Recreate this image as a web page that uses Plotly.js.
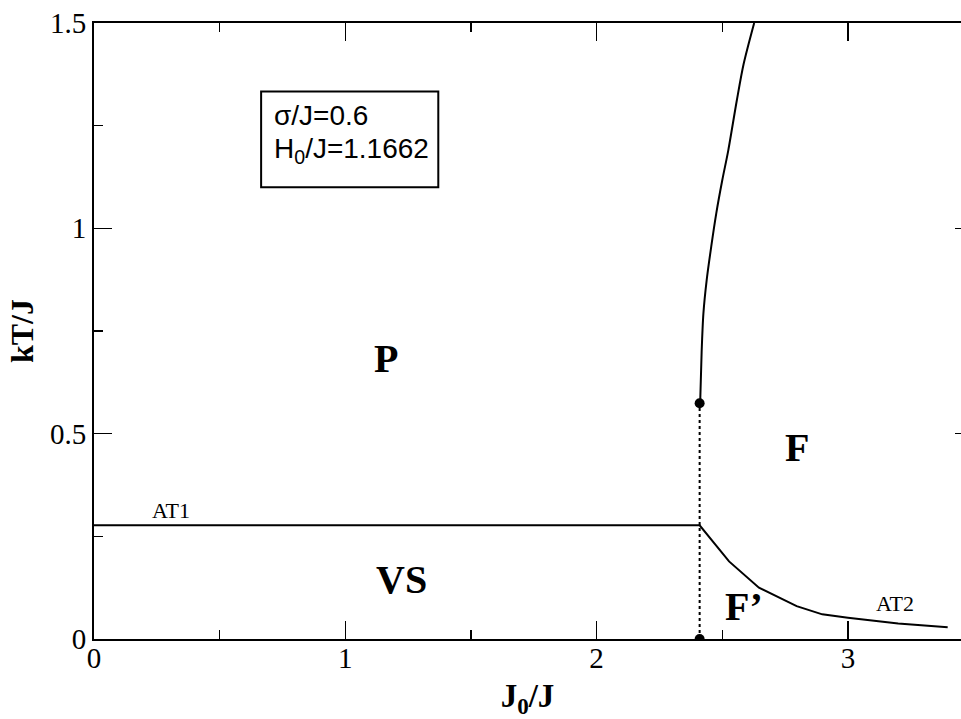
<!DOCTYPE html>
<html>
<head>
<meta charset="utf-8">
<script src="https://cdn.plot.ly/plotly-3.0.1.min.js"></script>
<style>
  body { margin: 0; background: #fff; }
  #phase { width: 961px; height: 719px; }
</style>
</head>
<body>
<div id="phase"></div>
<script>
// first-order line P / F, ends at the critical point
var upperX = [2.412, 2.418, 2.425, 2.438, 2.456, 2.476, 2.500, 2.524, 2.558, 2.585, 2.627];
var upperY = [0.574, 0.700, 0.793, 0.874, 0.955, 1.036, 1.117, 1.190, 1.312, 1.400, 1.500];

// AT1 (flat) then AT2
var atX = [0, 2.41, 2.527, 2.646, 2.796, 2.898, 3.0, 3.2, 3.397];
var atY = [0.277, 0.277, 0.189, 0.125, 0.080, 0.060, 0.052, 0.0375, 0.0285];

// dotted vertical below the critical point
var dotX = [2.41, 2.41];
var dotY = [0, 0.574];

var labelText = ["P", "F", "VS", "F’"];
var labelX = [1.161, 2.798, 1.222, 2.585];
var labelY = [0.684, 0.467, 0.145, 0.078];

var lineText = ["AT1", "AT2"];
var lineX = [0.307, 3.186];
var lineY = [0.313, 0.086];

var boxLines = ["σ/J=0.6", "H<sub>0</sub>/J=1.1662"];

var serif = "Liberation Serif";
var sans = "Liberation Sans";

var traces = [
  {x: upperX, y: upperY, mode: "lines", line: {color: "#000", width: 2, shape: "spline", smoothing: 0.8}, hoverinfo: "skip"},
  {x: atX, y: atY, mode: "lines", line: {color: "#000", width: 2}, hoverinfo: "skip"},
  {x: dotX, y: dotY, mode: "lines+markers", line: {color: "#000", width: 2, dash: "dot"},
   marker: {color: "#000", size: 10}, hoverinfo: "skip"},
  {x: [0], y: [0], yaxis: "y2", mode: "markers", marker: {opacity: 0}, hoverinfo: "skip"}
];

var annos = [];
labelText.forEach(function (t, i) {
  annos.push({x: labelX[i], y: labelY[i], text: "<b>" + t + "</b>", showarrow: false,
    font: {family: serif, size: 40, color: "#000"}});
});
lineText.forEach(function (t, i) {
  annos.push({x: lineX[i], y: lineY[i], text: t, showarrow: false,
    font: {family: serif, size: 22, color: "#000"}});
});
annos.push({x: 0.71, y: 1.275, xanchor: "left", text: boxLines[0], showarrow: false,
  font: {family: sans, size: 28, color: "#000"}});
annos.push({x: 0.71, y: 1.190, xanchor: "left", text: boxLines[1], showarrow: false,
  font: {family: sans, size: 28, color: "#000"}});

var layout = {
  width: 961, height: 719,
  margin: {l: 94, r: 0, t: 23, b: 80},
  paper_bgcolor: "#fff", plot_bgcolor: "#fff",
  font: {family: serif, size: 29, color: "#000"},
  showlegend: false,
  xaxis: {
    range: [0, 3.45], dtick: 1, tick0: 0,
    ticks: "inside", ticklen: 18, tickwidth: 1.5, tickcolor: "#000",
    minor: {dtick: 0.5, ticks: "inside", ticklen: 9, tickwidth: 1.5, tickcolor: "#000"},
    showline: true, linewidth: 2, linecolor: "#000", mirror: "ticks",
    showgrid: false, zeroline: false,
    ticklabelstandoff: -8,
    tickfont: {family: serif, size: 29, color: "#000"},
    title: {text: "<b>J<sub>0</sub>/J</b>", standoff: 14,
      font: {family: serif, size: 33, color: "#000"}}
  },
  yaxis: {
    range: [0, 1.5], dtick: 0.5, tick0: 0,
    ticks: "inside", ticklen: 18, tickwidth: 1.5, tickcolor: "#000",
    minor: {dtick: 0.25, ticks: "inside", ticklen: 9, tickwidth: 1.5, tickcolor: "#000"},
    showline: true, linewidth: 2, linecolor: "#000",
    showgrid: false, zeroline: false,
    tickfont: {family: serif, size: 29, color: "#000"},
    title: {text: "<b>kT/J</b>", standoff: 7,
      font: {family: serif, size: 32, color: "#000"}}
  },
  yaxis2: {
    overlaying: "y", side: "right", anchor: "x", matches: "y",
    range: [0, 1.5], dtick: 0.5, ticks: "inside", ticklen: 6, tickwidth: 1.5, tickcolor: "#000",
    showticklabels: false, showline: false, showgrid: false, zeroline: false
  },
  shapes: [
    {type: "rect", xref: "x", yref: "y", x0: 0.665, x1: 1.37, y0: 1.10, y1: 1.333,
     line: {color: "#000", width: 2}}
  ],
  annotations: annos
};

Plotly.newPlot("phase", traces, layout, {staticPlot: true});
</script>
</body>
</html>
